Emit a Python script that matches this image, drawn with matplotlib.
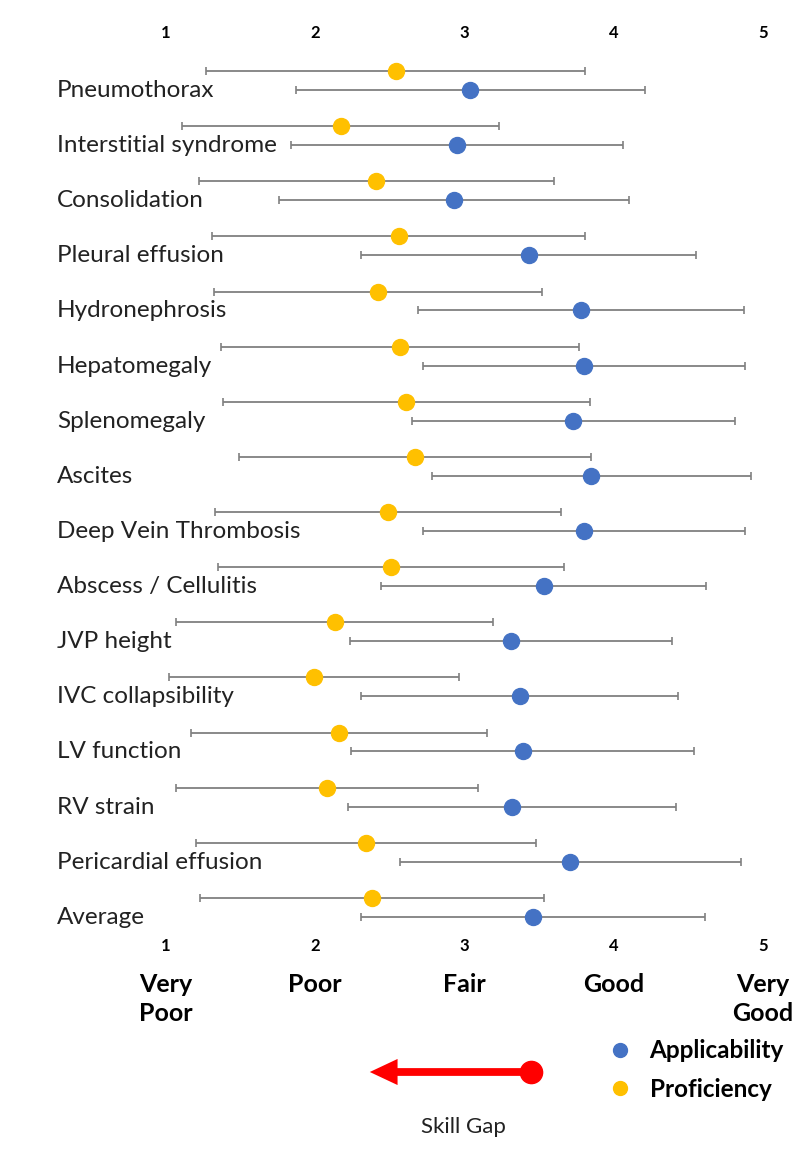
import matplotlib.pyplot as plt
from matplotlib.lines import Line2D
from matplotlib.patches import FancyArrowPatch
from matplotlib.transforms import blended_transform_factory as blend
import numpy as np

plt.rcParams['font.family'] = ['Lato', 'DejaVu Sans']

# data (mean and SD on a 1-5 scale)
skills = ['Pneumothorax', 'Interstitial syndrome', 'Consolidation', 'Pleural effusion',
          'Hydronephrosis', 'Hepatomegaly', 'Splenomegaly', 'Ascites',
          'Deep Vein Thrombosis', 'Abscess / Cellulitis', 'JVP height',
          'IVC collapsibility', 'LV function', 'RV strain', 'Pericardial effusion', 'Average']
prof_mean = [2.54, 2.17, 2.41, 2.56, 2.42, 2.57, 2.61, 2.67, 2.49, 2.51, 2.13, 1.99, 2.16, 2.08, 2.34, 2.38]
prof_sd = [1.27, 1.06, 1.19, 1.25, 1.10, 1.20, 1.23, 1.18, 1.16, 1.16, 1.06, 0.97, 0.99, 1.01, 1.14, 1.15]
app_mean = [3.04, 2.95, 2.93, 3.43, 3.78, 3.80, 3.73, 3.85, 3.80, 3.53, 3.31, 3.37, 3.39, 3.32, 3.71, 3.46]
app_sd = [1.17, 1.11, 1.17, 1.12, 1.09, 1.08, 1.08, 1.07, 1.08, 1.09, 1.08, 1.06, 1.15, 1.10, 1.14, 1.15]
scale_ticks = [1, 2, 3, 4, 5]
scale_words = ['Very\nPoor', 'Poor', 'Fair', 'Good', 'Very\nGood']

blue = '#4472C4'
yellow = '#FFC000'
grey = '#808080'

fig = plt.figure(figsize=(8, 11.56), dpi=100)
ax = fig.add_axes([0, 0, 1, 1])
ax.set_xlim(-0.112, 5.248)
ax.set_ylim(19.51, -1.46)
ax.axis('off')

rows = np.arange(len(skills))
ax.errorbar(prof_mean, rows - 0.172, xerr=prof_sd, fmt='o', color=yellow, ms=11.5,
            ecolor=grey, elinewidth=1.3, capsize=3, capthick=1.2, zorder=3)
ax.errorbar(app_mean, rows + 0.172, xerr=app_sd, fmt='o', color=blue, ms=11.5,
            ecolor=grey, elinewidth=1.3, capsize=3, capthick=1.2, zorder=3)

lab_tr = blend(fig.transFigure, ax.transData)
for i, s in enumerate(skills):
    ax.text(57 / 800, i + 0.18, s, transform=lab_tr, ha='left', va='center',
            fontsize=17.5, color='#222222')

tick_tr = blend(ax.transData, fig.transFigure)
for t, w in zip(scale_ticks, scale_words):
    ax.text(t, 1 - 33 / 1156, str(t), transform=tick_tr, ha='center', va='center',
            fontsize=12, fontweight='bold')
    ax.text(t, 1 - 946 / 1156, str(t), transform=tick_tr, ha='center', va='center',
            fontsize=12, fontweight='bold')
    ax.text(t, 1 - 973 / 1156, w, transform=tick_tr, ha='center', va='top',
            fontsize=18, fontweight='bold', linespacing=1.3)

# legend
handles = [Line2D([], [], ls='', marker='o', color=blue, ms=10),
           Line2D([], [], ls='', marker='o', color=yellow, ms=10)]
fig.legend(handles, ['Applicability', 'Proficiency'], loc='center left',
           bbox_to_anchor=(0.733, 1 - 1070 / 1156), frameon=False,
           prop={'weight': 'bold', 'size': 17.5}, handlelength=1.0,
           handletextpad=0.7, labelspacing=0.65)

# skill gap arrow
arr = FancyArrowPatch((531 / 800, 1 - 1072 / 1156), (367 / 800, 1 - 1072 / 1156),
                      transform=fig.transFigure,
                      arrowstyle='simple,head_length=0.5,head_width=0.47,tail_width=0.14',
                      mutation_scale=40, color='red', lw=0)
fig.patches.append(arr)
ax.plot([531 / 800], [1 - 1072 / 1156], 'o', color='red', ms=16, transform=fig.transFigure)
fig.text(463 / 800, 1 - 1127 / 1156, 'Skill Gap', ha='center', va='center', fontsize=16,
         color='#222222')

fig.savefig('out.png', dpi=100)
